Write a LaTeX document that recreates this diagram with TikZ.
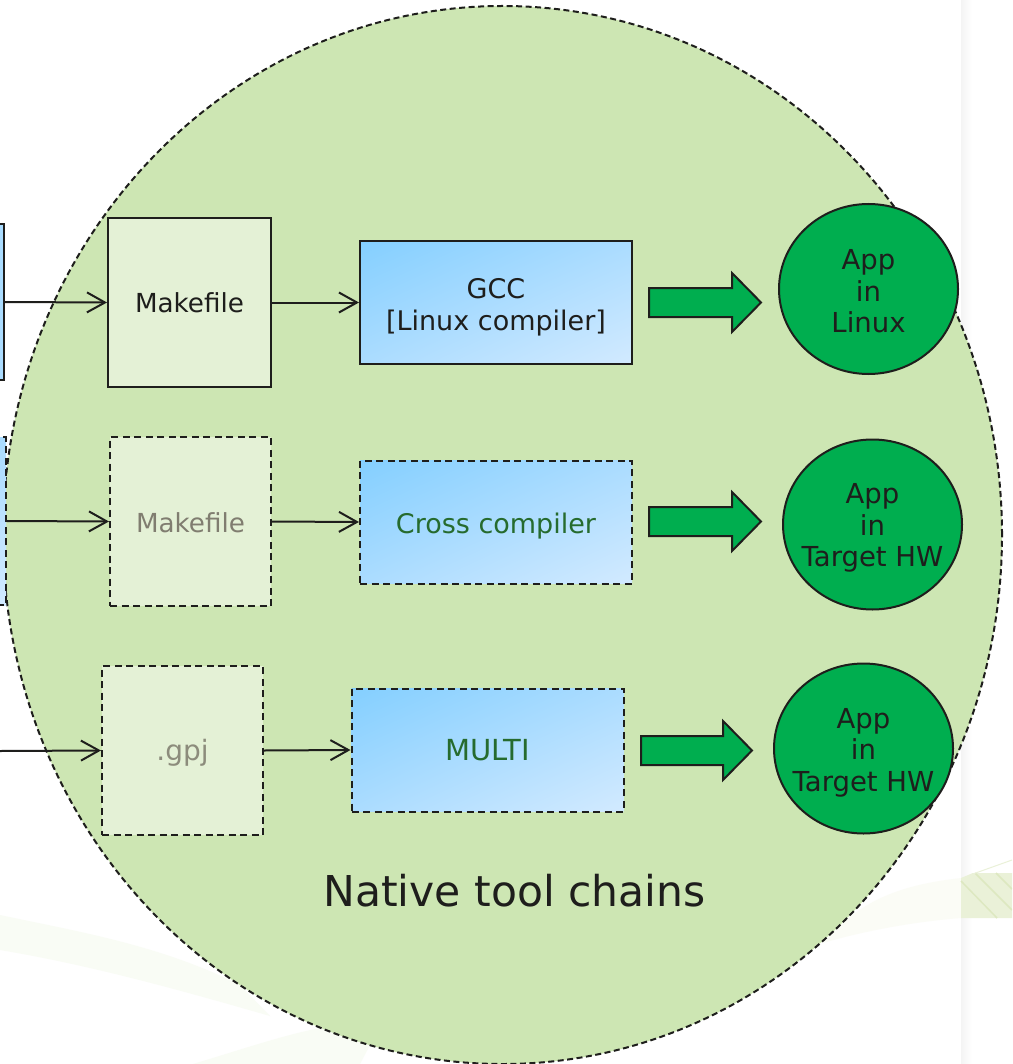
\documentclass[tikz,border=0pt]{standalone}
\usepackage{fontspec}
\setmainfont{DejaVu Sans}
\usetikzlibrary{arrows.meta,shapes.geometric,shadings}
\definecolor{ink}{HTML}{1E1E1C}
\definecolor{blob}{HTML}{CDE6B3}
\definecolor{pale}{HTML}{E4F1D6}
\definecolor{appgreen}{HTML}{00AE4F}
\definecolor{blueA}{HTML}{84CFFF}
\definecolor{blueB}{HTML}{ABDCFF}
\definecolor{blueC}{HTML}{D2EAFF}
\definecolor{bandA}{HTML}{F9FCF5}
\definecolor{bandC}{HTML}{FBFCF6}
\definecolor{bandD}{HTML}{EAF1D8}
\definecolor{bandE}{HTML}{DDE8C0}
\definecolor{stripe}{HTML}{F4F4F4}
\definecolor{greyA}{HTML}{807D70}
\definecolor{greyB}{HTML}{8C8C7C}
\definecolor{darkgr}{HTML}{266B2E}
\newcommand{\lowline}[2]{\raisebox{-#1pt}[0pt][0pt]{\makebox[0pt]{#2}}}
\tikzset{
  x=1pt,y=-1pt,
  boxbase/.style={draw=ink,line width=2pt,inner sep=0pt,align=center,text=ink,font=\fontsize{27}{32}\selectfont,anchor=center},
  mk/.style={boxbase,fill=pale,font=\fontsize{26.2}{32}\selectfont},
  comp/.style={boxbase,upper left=blueA,upper right=blueB,lower left=blueB,lower right=blueC,minimum width=272pt,minimum height=123pt},
  dashbox/.style={dash pattern=on 7pt off 4.5pt},
  app/.style={ellipse,draw=ink,line width=2pt,fill=appgreen,inner sep=0pt,minimum width=179pt,minimum height=170pt,align=center,font=\fontsize{27.5}{31.5}\selectfont,text=ink},
  link/.style={draw=ink,line width=2pt,-{Straight Barb[length=18pt,width=20pt,line width=2pt]}},
  bigarrow/.style={draw=ink,line width=2pt,fill=appgreen,line join=miter}
}
\begin{document}
\begin{tikzpicture}
\useasboundingbox (0,0) rectangle (1012,1064);
\clip (0,0) rectangle (1012,1064);
% background
\fill[white] (0,0) rectangle (1012,1064);
\shade[left color=stripe,right color=white] (961,0) rectangle (972,1064);
\fill[bandA] (0,915) .. controls (80,932) and (160,945) .. (240,985) -- (270,1016) .. controls (180,990) and (90,965) .. (0,950) -- cycle;
\fill[bandA] (193,1064) .. controls (240,1050) and (280,1036) .. (320,1028) -- (370,1045) -- (360,1064) -- cycle;
\fill[bandC] (823,943) .. controls (860,900) and (900,885) .. (961,878) -- (961,918) .. controls (910,922) and (860,932) .. (823,943) -- cycle;
\fill[bandD] (961,878) -- (973,873) -- (1012,873) -- (1012,918) -- (961,918) -- cycle;
\draw[bandE,line width=1.5pt] (961,881) -- (997,918) (975,873) -- (1012,910) (996,873) -- (1012,889);
\draw[bandD,line width=1pt] (970,875) -- (1012,860);
% big ellipse
\node[ellipse,draw=ink,fill=blob,line width=2pt,dash pattern=on 6pt off 3.5pt,minimum width=999pt,minimum height=1058pt,inner sep=0pt] (blobshape) at (502.5,535) {};
% left cut-off boxes
\node[comp,minimum width=124pt,minimum height=156pt,lower right=blueB,upper right=blueB] (leftA) at (-58,302) {};
\node[comp,dashbox,minimum width=124pt,minimum height=168pt,lower right=blueC,upper right=blueB] (leftB) at (-56,521) {};
\coordinate (leftC) at (0,751);
% row 1
\node[mk,minimum width=163pt,minimum height=169pt] (mkA) at (189.5,302.5) {\lowline{10}{Makefile}};
\node[comp] (gcc) at (496,302.5) {\lowline{11.5}{GCC}\\\lowline{11.5}{[Linux compiler]}};
\node[app] (appA) at (868.5,289) {\lowline{12}{App}\\\lowline{12}{in}\\\lowline{12}{Linux}};
% row 2
\node[mk,dashbox,minimum width=161pt,minimum height=169pt,text=greyA] (mkB) at (190.5,521.5) {\lowline{11}{Makefile}};
\node[comp,dashbox,text=darkgr] (cross) at (496,522) {\lowline{11}{Cross compiler}};
\node[app] (appB) at (872.5,524.5) {\lowline{10.5}{App}\\\lowline{10.5}{in}\\\lowline{10.5}{Target HW}};
% row 3
\node[mk,dashbox,minimum width=161pt,minimum height=169pt,text=greyB,font=\fontsize{28}{32}\selectfont] (gpj) at (182.5,750.5) {\lowline{10}{.gpj}};
\node[comp,dashbox,text=darkgr,font=\fontsize{29}{32}\selectfont] (multi) at (487.5,750) {\lowline{10.5}{MULTI}};
\node[app] (appC) at (863.5,748.5) {\lowline{11}{App}\\\lowline{11}{in}\\\lowline{11}{Target HW}};
% connectors
\draw[link] (leftA.east) -- (mkA.west);
\draw[link] (mkA.east) -- (gcc.west);
\draw[link] (leftB.east) -- (mkB.west);
\draw[link] (mkB.east) -- (cross.west);
\draw[link] (leftC) -- (gpj.west);
\draw[link] (gpj.east) -- (multi.west);
% block arrows
\draw[bigarrow] (649,288) -- (732,288) -- (732,273) -- (761,302.5) -- (732,332) -- (732,317) -- (649,317) -- cycle;
\draw[bigarrow] (649,507) -- (732,507) -- (732,492) -- (761,521.5) -- (732,551) -- (732,536) -- (649,536) -- cycle;
\draw[bigarrow] (641,736) -- (723,736) -- (723,721) -- (752,750.5) -- (723,780) -- (723,765) -- (641,765) -- cycle;
% caption
\node[font=\fontsize{42.5}{50}\selectfont,text=ink,inner sep=0pt] (caption) at (514.5,891) {Native tool chains};
\end{tikzpicture}
\end{document}
